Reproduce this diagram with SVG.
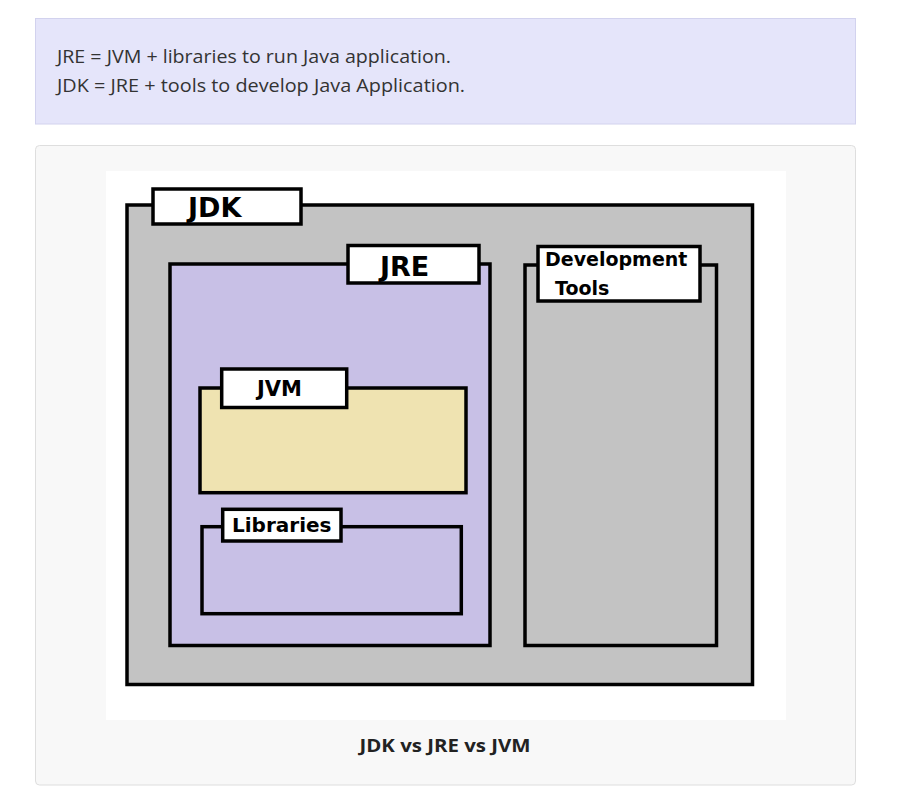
<svg xmlns="http://www.w3.org/2000/svg" width="909" height="802" viewBox="0 0 909 802">
<style>
.box{stroke:#000;stroke-width:3.5}
.tab{fill:#fff;stroke:#000;stroke-width:3.5}
.lbl{font-family:"DejaVu Sans",sans-serif;font-weight:bold;fill:#000}
.note{font-family:"Open Sans","Noto Sans",sans-serif;font-size:17.5px;fill:#333}
</style>
<rect width="909" height="802" fill="#fff"/>
<g id="note">
<rect x="35.5" y="18.5" width="820" height="105.5" fill="#e5e5fa" stroke="#d2d2ee" stroke-width="1"/>
<text class="note" x="57" y="63" textLength="394" lengthAdjust="spacingAndGlyphs">JRE = JVM + libraries to run Java application.</text>
<text class="note" x="57" y="92" textLength="408" lengthAdjust="spacingAndGlyphs">JDK = JRE + tools to develop Java Application.</text>
</g>
<g id="figure">
<rect x="35.5" y="145.5" width="820" height="639.5" rx="4" fill="#f8f8f8" stroke="#dedede" stroke-width="1"/>
<rect x="106" y="171" width="680" height="549" fill="#fff"/>
<text x="445" y="752" text-anchor="middle" font-family="'Open Sans','Noto Sans',sans-serif" font-weight="bold" font-size="18" fill="#222" textLength="171" lengthAdjust="spacingAndGlyphs">JDK vs JRE vs JVM</text>
</g>
<g id="jdk">
<rect class="box" x="127" y="205" width="625.5" height="479.5" fill="#c3c3c3"/>
<rect class="tab" x="153" y="189" width="148" height="35"/>
<text class="lbl" x="188" y="216.5" font-size="27">JDK</text>
</g>
<g id="jre">
<rect class="box" x="170" y="264" width="320" height="381.5" fill="#c8c0e6"/>
<rect class="tab" x="348" y="245.5" width="131" height="37.5"/>
<text class="lbl" x="380" y="275.5" font-size="27">JRE</text>
</g>
<g id="devtools">
<rect class="box" x="525" y="265" width="191.5" height="380.5" fill="#c3c3c3"/>
<rect class="tab" x="538" y="246.5" width="162" height="54.5"/>
<text class="lbl" x="545" y="266" font-size="19">Development</text>
<text class="lbl" x="555" y="295" font-size="19">Tools</text>
</g>
<g id="jvm">
<rect class="box" x="200" y="388" width="266" height="104.7" fill="#efe3b1"/>
<rect class="tab" x="221.7" y="369" width="125" height="38.5"/>
<text class="lbl" x="257" y="396" font-size="21">JVM</text>
</g>
<g id="libraries">
<rect class="box" x="202" y="526.7" width="259.3" height="87" fill="#c8c0e6"/>
<rect class="tab" x="222.7" y="509.3" width="118.3" height="31.7"/>
<text class="lbl" x="232" y="531.7" font-size="20">Libraries</text>
</g>
<g id="connectors"/>
</svg>
